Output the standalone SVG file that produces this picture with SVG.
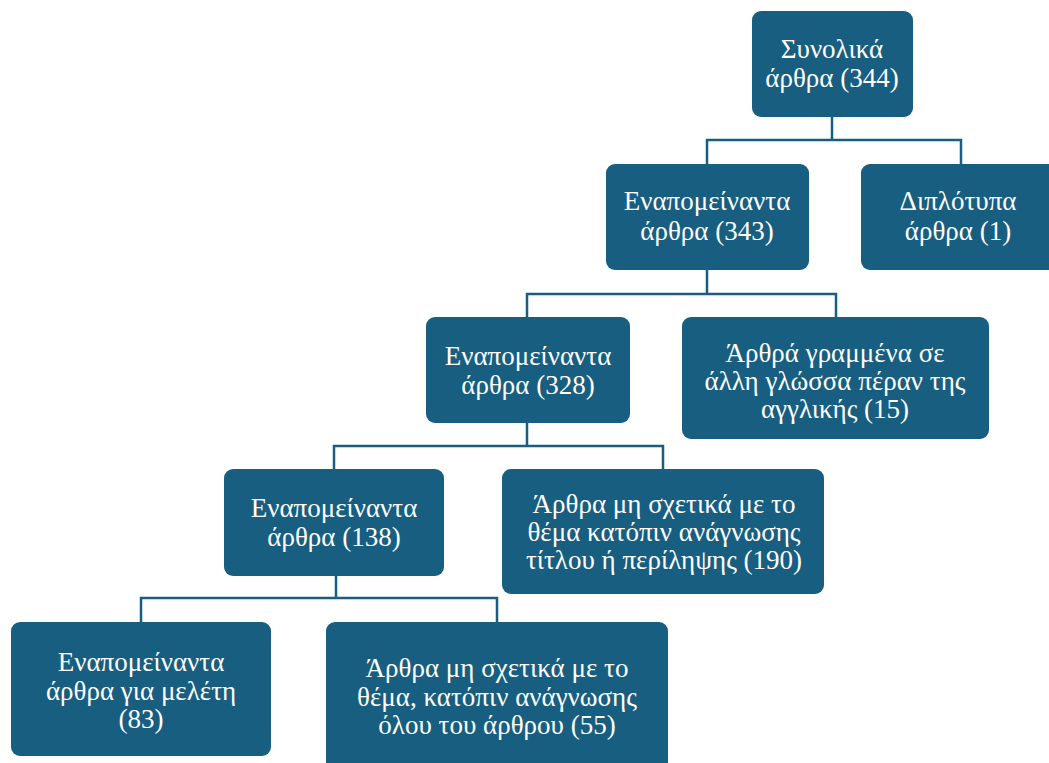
<svg xmlns="http://www.w3.org/2000/svg" width="1049" height="763" viewBox="0 0 1049 763">
<style>
.n{fill:#175e80}
.c{fill:none;stroke:#175e80;stroke-width:2.5}
.t{font-family:"Liberation Serif","DejaVu Serif","Times New Roman",serif;font-size:27px;fill:#ffffff;text-anchor:middle}
</style>
<rect width="1049" height="763" fill="#ffffff"/>
<g id="connectors">
<path class="c" d="M832 117V140M707 164V140H961V164"/>
<path class="c" d="M707 270V294M527 317V294H836V317"/>
<path class="c" d="M527 422V446M334 469V446H663V469"/>
<path class="c" d="M336 576V598M141 622V598H497V622"/>
</g>
<g id="n1"><rect class="n" x="752" y="11" width="161" height="106" rx="9"/>
<text class="t" x="832" y="58">Συνολικά</text><text class="t" x="832" y="87">άρθρα (344)</text></g>
<g id="n2"><rect class="n" x="606" y="164" width="203" height="106" rx="9"/>
<text class="t" x="707" y="210">Εναπομείναντα</text><text class="t" x="707" y="240">άρθρα (343)</text></g>
<g id="n3"><rect class="n" x="861" y="164" width="200" height="106" rx="9"/>
<text class="t" x="958" y="210">Διπλότυπα</text><text class="t" x="958" y="240">άρθρα (1)</text></g>
<g id="n4"><rect class="n" x="426" y="317" width="204" height="106" rx="9"/>
<text class="t" x="528" y="365">Εναπομείναντα</text><text class="t" x="528" y="394">άρθρα (328)</text></g>
<g id="n5"><rect class="n" x="682" y="317" width="307" height="122" rx="9"/>
<text class="t" x="835" y="362">Άρθρά γραμμένα σε</text><text class="t" x="835" y="390">άλλη γλώσσα πέραν της</text><text class="t" x="835" y="418">αγγλικής (15)</text></g>
<g id="n6"><rect class="n" x="224" y="469" width="220" height="107" rx="9"/>
<text class="t" x="334" y="517">Εναπομείναντα</text><text class="t" x="334" y="546">άρθρα (138)</text></g>
<g id="n7"><rect class="n" x="502" y="469" width="322" height="125" rx="9"/>
<text class="t" x="664" y="513">Άρθρα μη σχετικά με το</text><text class="t" x="664" y="541">θέμα κατόπιν ανάγνωσης</text><text class="t" x="664" y="569">τίτλου ή περίληψης (190)</text></g>
<g id="n8"><rect class="n" x="11" y="622" width="260" height="134" rx="9"/>
<text class="t" x="141" y="671">Εναπομείναντα</text><text class="t" x="141" y="700">άρθρα για μελέτη</text><text class="t" x="141" y="728">(83)</text></g>
<g id="n9"><rect class="n" x="326" y="622" width="342" height="150" rx="9"/>
<text class="t" x="497" y="677">Άρθρα μη σχετικά με το</text><text class="t" x="497" y="706">θέμα, κατόπιν ανάγνωσης</text><text class="t" x="497" y="734">όλου του άρθρου (55)</text></g>
</svg>
